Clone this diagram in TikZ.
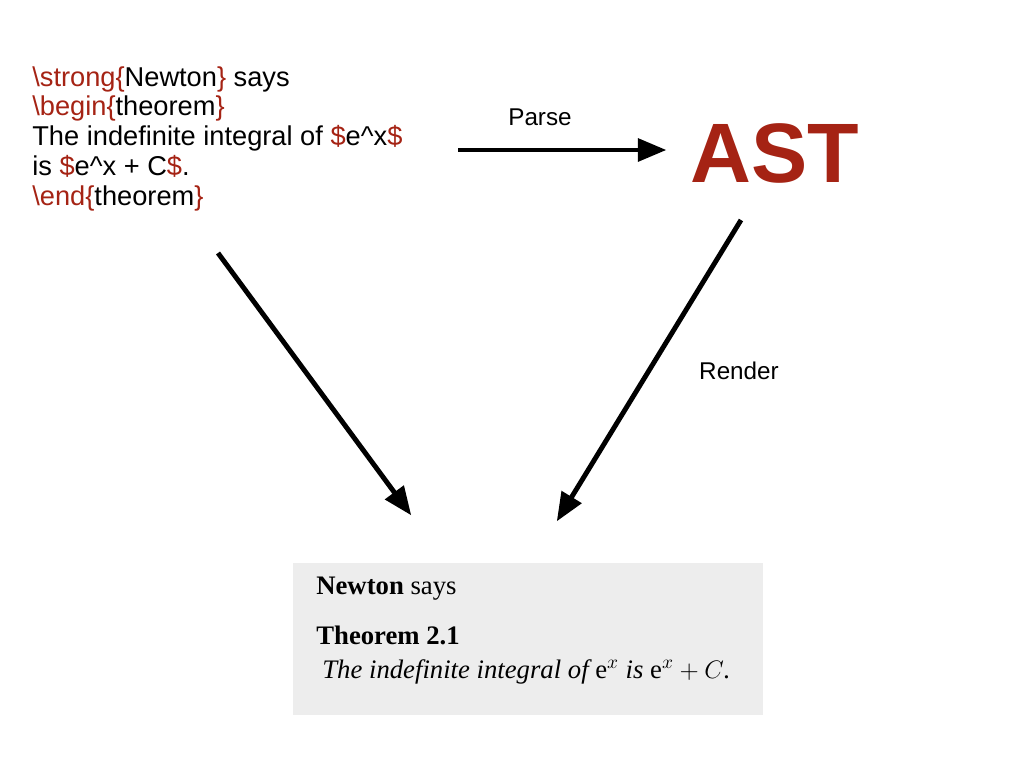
\documentclass[tikz,border=0pt]{standalone}
\usepackage{fontspec}
\setmainfont{Liberation Serif}
\newfontfamily\srcfont{Liberation Sans}
\usepackage{amsmath}
\usetikzlibrary{arrows,positioning}
\definecolor{texred}{RGB}{165,35,20}
\newcommand{\rd}[1]{\textcolor{texred}{#1}}
\begin{document}
\begin{tikzpicture}[x=0.02cm,y=-0.02cm,every text node part/.style={align=left}]
\tikzset{srcFont/.style={font=\srcfont\fontsize{15.5pt}{17pt}\selectfont}}
\tikzset{myArrow/.style={draw,line width=2.8pt,-triangle 45}}
\tikzset{myLabel/.style={font=\srcfont\fontsize{13.8pt}{15pt}\selectfont}}
\tikzset{outFont/.style={font=\fontsize{15.2pt}{17pt}\selectfont}}
\tikzset{myBox/.style={fill=black!7,minimum width=470*0.02cm,minimum height=152*0.02cm,anchor=north west}}

\useasboundingbox (0,0) rectangle (1024,768);

\node[srcFont,anchor=north west,inner sep=0pt] (source) at (32,66)
 {\rd{\textbackslash strong\{}Newton\rd{\}} says\\
  \rd{\textbackslash begin\{}theorem\rd{\}}\\
  The indefinite integral of \rd{\$}e\textasciicircum x\rd{\$}\\
  is \rd{\$}e\textasciicircum x + C\rd{\$}.\\
  \rd{\textbackslash end\{}theorem\rd{\}}};
\node[font=\srcfont\bfseries\fontsize{48pt}{48pt}\selectfont,text=texred] (ast) at (775,153) {AST};
\node[myBox] (output) at (293,563) {};
\node[outFont,anchor=north west,inner sep=0pt] (says) at (316,577) {\textbf{Newton} says};
\node[outFont,anchor=north west,inner sep=0pt] (thm) at (316,626) {\bfseries Theorem 2.1};
\node[outFont,anchor=north west,inner sep=0pt] (stmt) at (322,659) {\itshape The indefinite integral of $\mathrm{e}^x$ is $\mathrm{e}^x+C$.};

\coordinate (parseA) at (458,150);
\coordinate (parseB) at (666,150);
\coordinate (leftA) at (218,253);
\coordinate (leftB) at (411,515);
\coordinate (rightA) at (741,220);
\coordinate (rightB) at (557,521);
\path[myArrow] (parseA) -- (parseB);
\path[myArrow] (leftA) -- (leftB);
\path[myArrow] (rightA) -- (rightB);
\node[myLabel] (parse) at (540,117) {Parse};
\node[myLabel] (render) at (739,371) {Render};
\end{tikzpicture}
\end{document}
